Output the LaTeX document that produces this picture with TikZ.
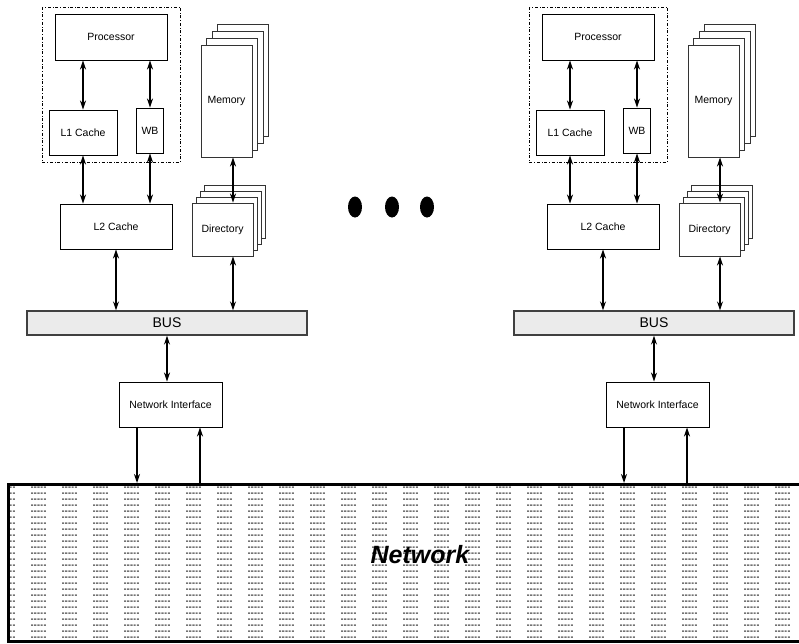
\documentclass[tikz,border=0pt]{standalone}
\usepackage{fontspec}
\setmainfont{Liberation Sans}
\usetikzlibrary{positioning,arrows.meta,calc,patterns}

% sparse columns of dots for the interconnect
\pgfdeclarepatternformonly{netdots}{\pgfpointorigin}{\pgfpoint{31pt}{6pt}}{\pgfpoint{31pt}{6pt}}{
  \pgfpathrectangle{\pgfpoint{0pt}{0pt}}{\pgfpoint{2.2pt}{2pt}}
  \pgfpathrectangle{\pgfpoint{3.3pt}{0pt}}{\pgfpoint{2.2pt}{2pt}}
  \pgfpathrectangle{\pgfpoint{6.6pt}{0pt}}{\pgfpoint{2.2pt}{2pt}}
  \pgfpathrectangle{\pgfpoint{9.9pt}{0pt}}{\pgfpoint{2.2pt}{2pt}}
  \pgfpathrectangle{\pgfpoint{13.2pt}{0pt}}{\pgfpoint{2.2pt}{2pt}}
  \pgfusepath{fill}
}

\begin{document}
\begin{tikzpicture}[
  x=1pt, y=-1pt,
  >={Stealth[length=9pt,width=6pt]},
  box/.style={draw, line width=0.9pt, fill=white, inner sep=1pt, font=\fontsize{10.5}{12}\selectfont},
  sheet/.style={box, draw=black!80},
  busbar/.style={draw=black!75, line width=1.3pt, fill=black!8, inner sep=0pt, font=\fontsize{14}{15}\selectfont},
  cpu/.style={draw, dash dot, line width=0.8pt},
  arr/.style={<->, line width=1.4pt},
  arrone/.style={->, line width=1.4pt},
]
\useasboundingbox (0,0) rectangle (799,643);

% one node of the machine, drawn twice
\foreach \g/\dx in {a/0,b/487} {
\begin{scope}[xshift=\dx pt]
  % processor, first level cache, write buffer
  \draw[cpu] (42,7) rectangle (180,162);
  \node[box, minimum width=112, minimum height=46] (proc\g) at (111,37) {Processor};
  \node[box, minimum width=68, minimum height=45] (lone\g) at (83,132.5) {L1 Cache};
  \node[box, minimum width=27, minimum height=45] (wb\g) at (150,130.5) {WB};
  \node[box, minimum width=112, minimum height=45] (ltwo\g) at (116,226.5) {L2 Cache};

  % memory and directory stacks
  \foreach \k in {3,2,1} {
    \node[sheet, minimum width=51, minimum height=112] (mem\g\k) at (226.5+5.5*\k,101-7*\k) {};
    \node[sheet, minimum width=61, minimum height=53] (dir\g\k) at (222.5+4*\k,229.5-6*\k) {};
  }
  \node[sheet, minimum width=51, minimum height=112] (mem\g) at (226.5,101) {Memory};
  \node[sheet, minimum width=61, minimum height=53] (dir\g) at (222.5,229.5) {Directory};

  % bus and network interface
  \node[busbar, minimum width=280, minimum height=24] (bus\g) at (167,323) {BUS};
  \node[box, minimum width=103, minimum height=45] (ni\g) at (170.5,404.5) {Network Interface};

  \draw[arr] (lone\g.north) -- (lone\g.north |- proc\g.south);
  \draw[arr] (wb\g.north) -- (wb\g.north |- proc\g.south);
  \draw[arr] (lone\g.south) -- (lone\g.south |- ltwo\g.north);
  \draw[arr] (wb\g.south) -- (wb\g.south |- ltwo\g.north);
  \draw[arr] (ltwo\g.south) -- (ltwo\g.south |- bus\g.north);
  \draw[arr] ([xshift=6.5pt]mem\g.south) -- ([xshift=6.5pt]mem\g.south |- dir\g.north);
  \draw[arr] ([xshift=10.5pt]dir\g.south) -- ([xshift=10.5pt]dir\g.south |- bus\g.north);
  \draw[arr] (ni\g.north -| bus\g.south) -- (bus\g.south);
  \coordinate (out\g) at (137,483);
  \coordinate (in\g) at (200,483);
  \draw[arrone] (ni\g.south -| out\g) -- (out\g);
  \draw[arrone] (in\g) -- (in\g |- ni\g.south);
\end{scope}
}

% more nodes in between
\foreach \cx in {355,392,427} { \fill (\cx,207) ellipse [x radius=7, y radius=10.5]; }

% interconnect
\node[draw, line width=3pt, pattern=netdots, pattern color=black!55,
  minimum width=800, minimum height=157, anchor=north west] (net) at (7,483) {};
\node[inner sep=1pt, font=\fontsize{25}{27}\selectfont\bfseries\itshape] (netlab) at (420,555) {Network};
\end{tikzpicture}
\end{document}
